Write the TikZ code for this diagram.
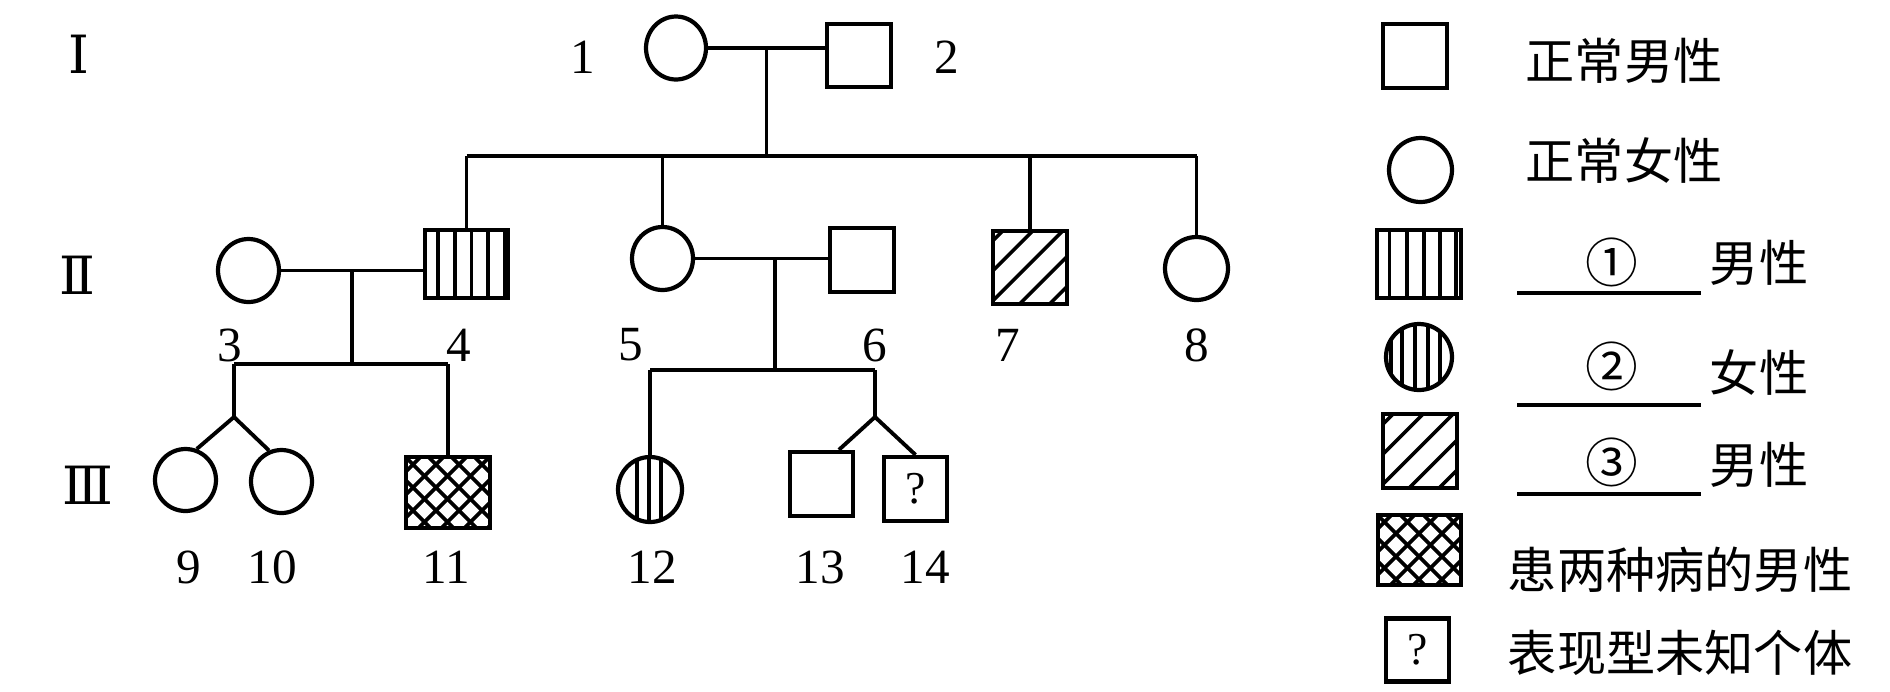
\documentclass[tikz,border=0pt]{standalone}
\usepackage{fontspec}
\setmainfont{Liberation Serif}
\newfontfamily\cjk{Noto Sans CJK SC}
\newfontfamily\romfont{DejaVu Serif}
\usetikzlibrary{shapes.geometric,calc}

\begin{document}
\begin{tikzpicture}[
  x=0.02cm, y=-0.02cm,
  line width=2.2pt,
  male/.style={rectangle, draw, line width=2.5pt, inner sep=0pt},
  female/.style={ellipse, draw, line width=2.4pt, inner sep=0pt},
  num/.style={font=\fontsize{28}{30}\selectfont, inner sep=0pt},
  gen/.style={font=\romfont\fontsize{30}{32}\selectfont, inner sep=0pt},
  txt/.style={font=\cjk\fontsize{28}{30}\selectfont, inner sep=0pt},
  circnum/.style={font=\cjk\fontsize{30}{32}\selectfont, inner sep=0pt},
  vstripes/.style={path picture={\foreach \o in {#1}
      \draw[line width=2pt] ([xshift=\o*0.02cm]path picture bounding box.north)
        -- ([xshift=\o*0.02cm]path picture bounding box.south);}},
  hatch/.style={path picture={\foreach \o in {-64,-34,-4,26,56}
      \draw[line width=2pt] ([xshift=\o*0.02cm]path picture bounding box.center)
        ++(-60,60) -- ++(120,-120);}},
  cross/.style={path picture={
      \foreach \o in {-86,-63,...,76}
        \draw[line width=2.1pt] ([xshift=\o*0.02cm]path picture bounding box.center)
          ++(-60,60) -- ++(120,-120);
      \foreach \o in {-76,-53,...,86}
        \draw[line width=2.1pt] ([xshift=\o*0.02cm]path picture bounding box.center)
          ++(-60,-60) -- ++(120,120);}}
]
  \useasboundingbox (0,0) rectangle (1890,691);

  % generations
  \node[gen] (g1) at (79,54) {Ⅰ};
  \node[gen] (g2) at (77,275) {Ⅱ};
  \node[gen] (g3) at (88,485) {Ⅲ};

  % I
  \node[female, minimum width=1.2cm, minimum height=1.26cm] (i1) at (676,48) {};
  \node[male, minimum width=1.28cm, minimum height=1.26cm] (i2) at (859,55.5) {};
  % II
  \node[female, minimum width=1.22cm, minimum height=1.26cm] (i3) at (248.5,270.5) {};
  \node[male, vstripes={-28.5,-11.5,5,21.5,38}, minimum width=1.66cm,
        minimum height=1.36cm] (i4) at (466.5,264) {};
  \node[female, minimum width=1.22cm, minimum height=1.26cm] (i5) at (662.5,258.5) {};
  \node[male, minimum width=1.28cm, minimum height=1.28cm] (i6) at (862,260) {};
  \node[male, hatch, minimum width=1.48cm, minimum height=1.46cm] (i7) at (1030,267.5) {};
  \node[female, minimum width=1.26cm, minimum height=1.26cm] (i8) at (1196.5,268.5) {};
  % III
  \node[female, minimum width=1.22cm, minimum height=1.24cm] (i9) at (185.5,480) {};
  \node[female, minimum width=1.22cm, minimum height=1.26cm] (i10) at (281.5,481.5) {};
  \node[male, cross, minimum width=1.68cm, minimum height=1.42cm] (i11) at (448,492.5) {};
  \node[female, vstripes={-13,-1,11}, minimum width=1.28cm,
        minimum height=1.3cm] (i12) at (650,489.5) {};
  \node[male, minimum width=1.26cm, minimum height=1.28cm] (i13) at (821.5,484) {};
  \node[male, minimum width=1.26cm, minimum height=1.28cm,
        font=\fontsize{26}{28}\selectfont] (i14) at (915.5,489) {?};

  % numbers
  \node[num] (n1) at (583,57) {1};
  \node[num] (n2) at (947,57) {2};
  \node[num] (n3) at (230,345) {3};
  \node[num] (n4) at (459,345) {4};
  \node[num] (n5) at (631,345) {5};
  \node[num] (n6) at (875,345) {6};
  \node[num] (n7) at (1008,345) {7};
  \node[num] (n8) at (1197,345) {8};
  \node[num] (n9) at (189,567) {9};
  \node[num] (n10) at (272,567) {10};
  \node[num] (n11) at (446,567) {11};
  \node[num] (n12) at (652,567) {12};
  \node[num] (n13) at (820,567) {13};
  \node[num] (n14) at (925,567) {14};

  % level lines
  \coordinate (lv2) at (0,156);
  \coordinate (lv3a) at (0,364);
  \coordinate (lv3b) at (0,370);
  \coordinate (tw1) at (234,417);
  \coordinate (tw2) at (875,417);

  % 1 x 2
  \draw (i1.east) -- (i1.east -| i2.west);
  \coordinate (m12) at ($(i1.east)!0.5!(i1.east -| i2.west)$);
  \draw (m12) -- (m12 |- lv2);
  \draw (i4.north |- lv2) -- (i8.north |- lv2);
  \foreach \c in {i4,i5,i7,i8}
    \draw (\c.north |- lv2) -- (\c.north);

  % 3 x 4
  \draw (i3.east) -- (i3.east -| i4.west);
  \coordinate (m34) at ($(i3.east)!0.5!(i3.east -| i4.west)$);
  \draw (m34) -- (m34 |- lv3a);
  \draw (tw1 |- lv3a) -- (i11.north |- lv3a);
  \draw (tw1 |- lv3a) -- (tw1);
  \draw (i9.70) -- (tw1) -- (i10.112);
  \draw (i11.north |- lv3a) -- (i11.north);

  % 5 x 6
  \draw (i5.east) -- (i5.east -| i6.west);
  \coordinate (m56) at ($(i5.east)!0.6!(i5.east -| i6.west)$);
  \draw (m56) -- (m56 |- lv3b);
  \draw (i12.north |- lv3b) -- (tw2 |- lv3b);
  \draw (i12.north |- lv3b) -- (i12.north);
  \draw (tw2 |- lv3b) -- (tw2);
  \draw (i13.63) -- (tw2) -- (i14.north);

  % legend
  \node[male, minimum width=1.28cm, minimum height=1.28cm] (k1) at (1415,56) {};
  \node[female, minimum width=1.26cm, minimum height=1.28cm] (k2) at (1420.5,170) {};
  \node[male, vstripes={-29.5,-12,5,21,37}, minimum width=1.68cm,
        minimum height=1.36cm] (k3) at (1419,264) {};
  \node[female, vstripes={-28,-17,-4,9,21}, minimum width=1.32cm,
        minimum height=1.32cm] (k4) at (1419,357) {};
  \node[male, hatch, minimum width=1.48cm, minimum height=1.48cm] (k5) at (1420,451) {};
  \node[male, cross, minimum width=1.66cm, minimum height=1.4cm] (k6) at (1419.5,550) {};
  \node[male, minimum width=1.26cm, minimum height=1.26cm,
        font=\fontsize{26}{28}\selectfont] (k7) at (1417.5,650) {?};

  \node[txt] (t1) at (1624,61) {正常男性};
  \node[txt] (t2) at (1624,161) {正常女性};
  \node[circnum] (q1) at (1612,262) {①};
  \node[txt] (t3) at (1759,263) {男性};
  \node[circnum] (q2) at (1612,366) {②};
  \node[txt] (t4) at (1759,373) {女性};
  \node[circnum] (q3) at (1612,462) {③};
  \node[txt] (t5) at (1759,465) {男性};
  \node[txt] (t6) at (1680,570) {患两种病的男性};
  \node[txt] (t7) at (1680,653) {表现型未知个体};
  % blanks
  \draw (1517,293) -- (1701,293);
  \draw (1517,405) -- (1701,405);
  \draw (1517,494) -- (1701,494);
\end{tikzpicture}
\end{document}
